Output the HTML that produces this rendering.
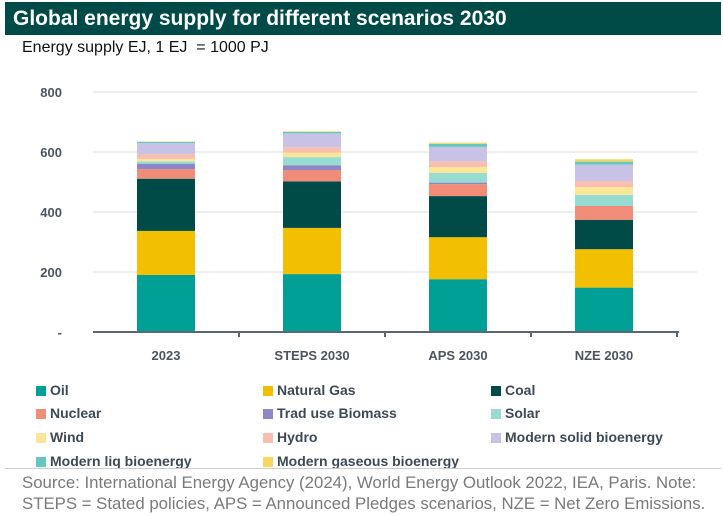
<!DOCTYPE html>
<html><head><meta charset="utf-8"><style>
body{margin:0;width:723px;height:516px;background:#fff;font-family:"Liberation Sans",sans-serif;overflow:hidden;position:relative}
#title{position:absolute;left:5px;top:2px;width:716px;height:33px;background:#004a48;color:#fff;font-weight:bold;font-size:21px;line-height:33px;padding-left:8px;box-sizing:border-box}
#sub{position:absolute;left:22px;top:39px;font-size:16px;color:#111}
.leg{position:absolute;font-size:14px;font-weight:bold;color:#3d4a55;height:16px;line-height:16px;white-space:nowrap}
.leg i{display:inline-block;width:10px;height:10px;margin-right:4px;vertical-align:-1px}
#src{position:absolute;left:22px;top:472px;font-size:16.8px;color:#7a7a7a;line-height:21px;white-space:nowrap}
#sep{position:absolute;left:5px;top:468px;width:716px;height:1px;background:#ccc}
</style></head><body>
<div id="title">Global energy supply for different scenarios 2030</div>
<div id="sub">Energy supply EJ, 1 EJ&nbsp; = 1000 PJ</div>
<svg id="chart" width="723" height="380" style="position:absolute;left:0;top:0"></svg>
<div id="legend"></div>
<div id="sep"></div>
<div id="src">Source: International Energy Agency (2024), World Energy Outlook 2022, IEA, Paris. Note:<br>STEPS = Stated policies, APS = Announced Pledges scenarios, NZE = Net Zero Emissions.</div>
<script>
const categories=["2023","STEPS 2030","APS 2030","NZE 2030"];
const seriesNames=["Oil","Natural Gas","Coal","Nuclear","Trad use Biomass","Solar","Wind","Hydro","Modern solid bioenergy","Modern liq bioenergy","Modern gaseous bioenergy"];
const oil=[190,193,176,148];
const naturalGas=[147,154,140,128];
const coal=[174,155,137,98];
const nuclear=[32,38,40,46];
const tradBiomass=[18,16,5,0];
const solar=[8,27,32,37];
const wind=[8,15,20,26];
const hydro=[16,18,19,20];
const modernSolid=[37,46,48,55];
const modernLiq=[4,5,10,10];
const modernGas=[1,2,4,8];
const yTicks=[0,200,400,600,800];
const yTickLabels=["-","200","400","600","800"];
const series=[oil,naturalGas,coal,nuclear,tradBiomass,solar,wind,hydro,modernSolid,modernLiq,modernGas];
const colors=["#00a096","#f2c000","#004a48","#f08c78","#8c87c8","#96dcd2","#fae696","#f8beb0","#c8c3e6","#64c8be","#f8d664"];
const NS="http://www.w3.org/2000/svg";
const svg=document.getElementById('chart');
const x0=93,x1=677,y0=332,yMax=800,yTop=92;
const band=(x1-x0)/categories.length,bw=58;
const y=v=>y0-(v/yMax)*(y0-yTop);
const xc=i=>x0+band*i+band/2;
function mk(t,a){const e=document.createElementNS(NS,t);for(const k in a)e.setAttribute(k,a[k]);svg.appendChild(e);return e;}
yTicks.forEach((t,i)=>{
 if(t>0){const g=mk('line',{x1:x0,x2:x1+20,y1:y(t),y2:y(t),stroke:'#dedede','stroke-width':1});
 
 }
 const l=mk('text',{x:62,y:y(t)+5,'text-anchor':'end','font-size':13,'font-weight':'bold',fill:'#4a5560','font-family':'Liberation Sans'});
 l.textContent=yTickLabels[i];
 
 
});
categories.forEach((c,i)=>{
 let acc=0;
 series.forEach((s,j)=>{
  const v=s[i]; if(v<=0){return;}
  const r=mk('rect',{x:xc(i)-bw/2,y:y(acc+v),width:bw,height:y(acc)-y(acc+v),fill:colors[j]});
  
  
  acc+=v;
 });
 const t=mk('text',{x:xc(i),y:360,'text-anchor':'middle','font-size':13,'font-weight':'bold',fill:'#4a5560','font-family':'Liberation Sans'});
 t.textContent=c;
 
 
 const tk=mk('line',{x1:x0+band*(i+1),x2:x0+band*(i+1),y1:y0,y2:y0+5,stroke:'#5a6670','stroke-width':2});
 
 
});
const ax=mk('line',{x1:x0,x2:x1+2,y1:y0,y2:y0,stroke:'#5a6670','stroke-width':2});


const leg=document.getElementById('legend');
const colX=[36,263,491],rowY=[382,405,429,453];
seriesNames.forEach((n,j)=>{
 const d=document.createElement('div');
 d.className='leg';
 d.style.left=colX[j%3]+'px';d.style.top=rowY[Math.floor(j/3)]+'px';
 d.innerHTML='<i style="background:'+colors[j]+'"></i>'+n;
 
 
 leg.appendChild(d);
});
</script>
</body></html>
